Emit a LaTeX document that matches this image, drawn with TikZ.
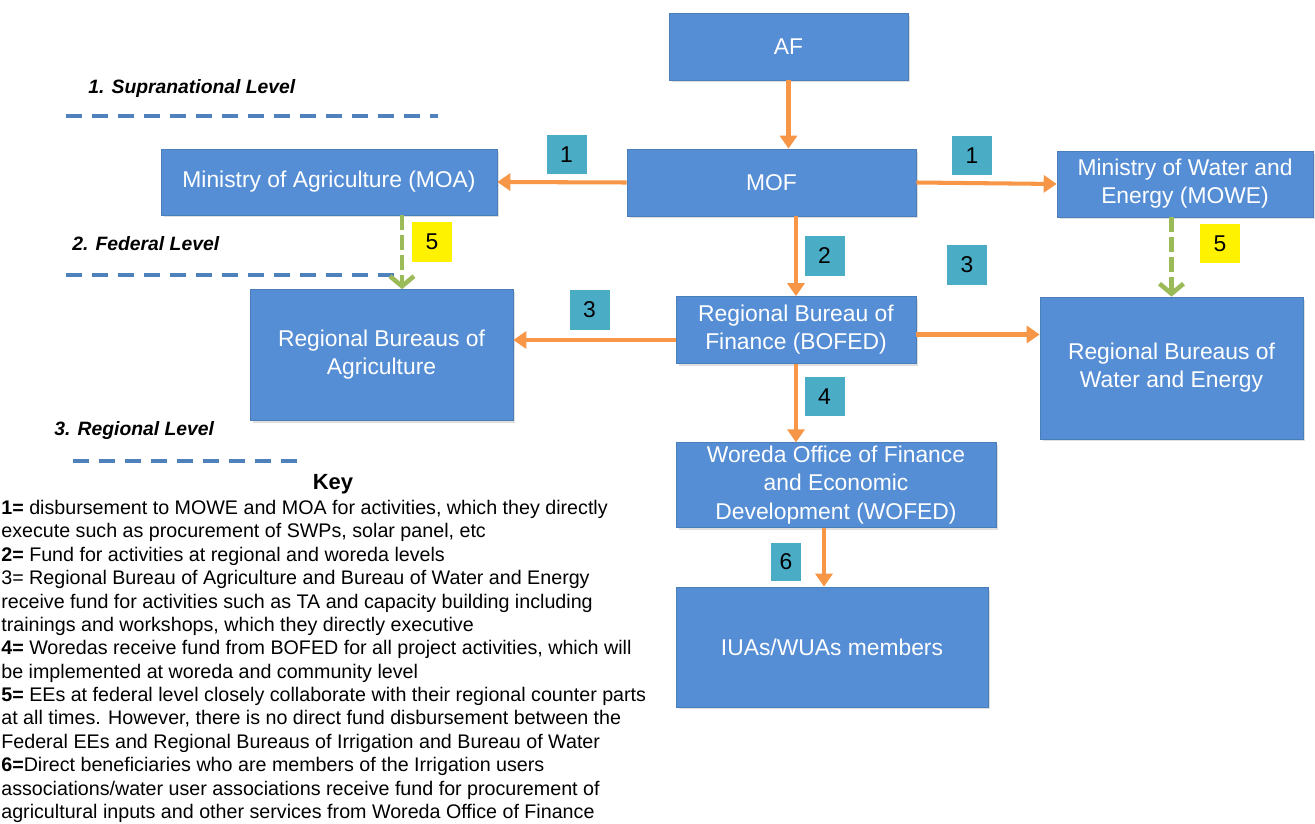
\documentclass[tikz,border=0pt]{standalone}
\usepackage{fontspec}
\setmainfont{Liberation Sans}
\usetikzlibrary{arrows.meta,shadows}
\definecolor{boxblue}{RGB}{85,142,213}
\definecolor{boxline}{RGB}{74,126,187}
\definecolor{tagteal}{RGB}{75,172,198}
\definecolor{flowor}{RGB}{247,150,70}
\definecolor{linkgreen}{RGB}{155,187,89}
\definecolor{levelblue}{RGB}{79,129,189}
\tikzset{
  unit/.style={draw=boxline, fill=boxblue, text=white, align=center,
    font=\fontsize{13}{16}\selectfont, inner sep=2pt,
    drop shadow={opacity=0.25,shadow xshift=0.05cm,shadow yshift=-0.05cm}},
  tag/.style={fill=tagteal, minimum width=0.8cm, minimum height=0.8cm,
    font=\fontsize{13}{15}\selectfont, inner sep=0pt},
  ytag/.style={tag, fill=yellow},
  fund/.style={flowor, line width=2.3pt, -{Triangle[length=0.26cm,width=0.34cm]}},
  collab/.style={linkgreen, line width=2.6pt, dash pattern=on 0.3cm off 0.1cm,
    -{Straight Barb[length=0.2cm,width=0.48cm]}},
  levelline/.style={levelblue, line width=2.3pt, dash pattern=on 0.32cm off 0.2cm},
  levelname/.style={anchor=west, inner sep=0pt,
    font=\fontsize{11}{13}\selectfont\bfseries\itshape}
}
\begin{document}
\begin{tikzpicture}[x=0.02cm,y=-0.02cm]
\useasboundingbox (0,0) rectangle (1315,824);
% levels
\node[levelname] (lev1) at (88,89) {1. Supranational Level};
\node[levelname] (lev2) at (72,244) {2. Federal Level};
\node[levelname] (lev3) at (54,431) {3. Regional Level};
\draw[levelline] (66,116) -- (438,116);
\draw[levelline] (66,275) -- (400,275);
\draw[levelline] (73,461) -- (300,461);
% boxes
\node[unit, minimum width=4.78cm, minimum height=1.34cm] (af) at (788.5,46.5) {AF};
\node[unit, minimum width=5.78cm, minimum height=1.34cm] (mof) at (771.5,182.5) {MOF};
\node[unit, minimum width=6.72cm, minimum height=1.32cm] (moa) at (329,182) {Ministry of Agriculture (MOA)};
\node[unit, minimum width=5.12cm, minimum height=1.32cm] (mowe) at (1185,184) {Ministry of Water and\\Energy (MOWE)};
\node[unit, minimum width=5.26cm, minimum height=2.62cm] (rba) at (381.5,355) {Regional Bureaus of\\Agriculture};
\node[unit, minimum width=4.8cm, minimum height=1.34cm] (bofed) at (796,330) {Regional Bureau of\\Finance (BOFED)};
\node[unit, minimum width=5.26cm, minimum height=2.84cm] (rbwe) at (1171.5,368) {Regional Bureaus of\\Water and Energy};
\node[unit, minimum width=6.4cm, minimum height=1.64cm] (wofed) at (836,485) {Woreda Office of Finance\\and Economic\\Development (WOFED)};
\node[unit, minimum width=6.24cm, minimum height=2.4cm] (iua) at (832,647) {IUAs/WUAs members};
% flows
\draw[fund] (af.south) -- (af.south |- mof.north);
\draw[fund] (mof.west) -- (moa.east);
\draw[fund] (mof.east) -- (mowe.west);
\draw[fund] (mof.south -| bofed) -- (bofed.north);
\draw[fund] ([yshift=-0.2cm]bofed.west) -- ([yshift=-0.2cm]bofed.west -| rba.east);
\draw[fund] ([yshift=-0.09cm]bofed.east) -- ([yshift=-0.09cm]bofed.east -| rbwe.west);
\draw[fund] (bofed.south) -- (bofed.south |- wofed.north);
\draw[fund] ([xshift=-0.24cm]wofed.south) -- ([xshift=-0.24cm]wofed.south |- iua.north);
\draw[collab] ([xshift=0.41cm]rba.north |- moa.south) -- ([xshift=0.41cm]rba.north);
\draw[collab] (mowe.south -| rbwe) -- (rbwe.north);
% tags
\node[tag] (t1a) at (566.5,154.5) {1};
\node[tag] (t1b) at (972,155.5) {1};
\node[tag] (t2) at (824.5,256) {2};
\node[tag] (t3b) at (967,265) {3};
\node[tag] (t3a) at (589.5,310) {3};
\node[tag] (t4) at (824.5,396.5) {4};
\node[tag, minimum width=0.6cm, minimum height=0.76cm] (t6) at (786,562) {6};
\node[ytag] (t5a) at (432,242) {5};
\node[ytag] (t5b) at (1220,243.5) {5};
% key
\node[font=\fontsize{12.5}{14}\selectfont\bfseries] (key) at (333,484) {Key};
\node[anchor=north west, align=left, inner sep=0pt,
  font=\fontsize{11.2}{13.3}\selectfont] (keytext) at (1,500) {%
\textbf{1=} disbursement to MOWE and MOA for activities, which they directly\\
execute such as procurement of SWPs, solar panel, etc\\
\textbf{2=} Fund for activities at regional and woreda levels\\
3= Regional Bureau of Agriculture and Bureau of Water and Energy\\
receive fund for activities such as TA and capacity building including\\
trainings and workshops, which they directly executive\\
\textbf{4=} Woredas receive fund from BOFED for all project activities, which will\\
be implemented at woreda and community level\\
\textbf{5=} EEs at federal level closely collaborate with their regional counter parts\\
at all times. However, there is no direct fund disbursement between the\\
Federal EEs and Regional Bureaus of Irrigation and Bureau of Water\\
\textbf{6=}Direct beneficiaries who are members of the Irrigation users\\
associations/water user associations receive fund for procurement of\\
agricultural inputs and other services from Woreda Office of Finance};
\end{tikzpicture}
\end{document}
